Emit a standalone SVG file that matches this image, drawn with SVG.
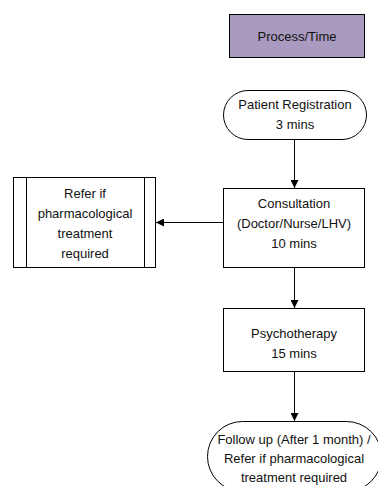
<svg xmlns="http://www.w3.org/2000/svg" width="378" height="486" viewBox="0 0 378 486">
<defs>
<style>
.box{fill:#fff;stroke:#000;stroke-width:1}
.t{font-family:"Liberation Sans",Arial,sans-serif;font-size:13px;fill:#111;text-anchor:middle}
.c{stroke:#000;stroke-width:1;fill:none}
</style>
<marker id="ah" viewBox="0 0 10 10" refX="10" refY="5" markerWidth="8" markerHeight="8" orient="auto" markerUnits="userSpaceOnUse">
<path d="M0,0 L10,5 L0,10 z" fill="#000"/>
</marker>
</defs>
<rect width="378" height="486" fill="#fff"/>
<g id="legend">
<rect x="229.500" y="14.500" width="135" height="43" fill="#A99BC0" stroke="#000"/>
<text class="t" x="297" y="41">Process/Time</text>
</g>
<g id="registration">
<rect class="box" x="223.500" y="90.500" width="143" height="49" rx="24.500"/>
<text class="t" x="295" y="109">Patient Registration</text>
<text class="t" x="295" y="129">3 mins</text>
</g>
<g id="consultation">
<rect class="box" x="223.500" y="188.500" width="141" height="79"/>
<text class="t" x="294" y="208">Consultation</text>
<text class="t" x="294" y="228">(Doctor/Nurse/LHV)</text>
<text class="t" x="294" y="248">10 mins</text>
</g>
<g id="refer">
<rect class="box" x="13.500" y="177.500" width="142" height="90"/>
<line class="c" x1="26.500" y1="177.500" x2="26.500" y2="267.500"/>
<line class="c" x1="144.500" y1="177.500" x2="144.500" y2="267.500"/>
<text class="t" x="85" y="198">Refer if</text>
<text class="t" x="85" y="218">pharmacological</text>
<text class="t" x="85" y="238">treatment</text>
<text class="t" x="85" y="258">required</text>
</g>
<g id="psychotherapy">
<rect class="box" x="223.500" y="308.500" width="141" height="63"/>
<text class="t" x="294" y="338">Psychotherapy</text>
<text class="t" x="294" y="358">15 mins</text>
</g>
<g id="followup">
<rect class="box" x="207.500" y="421.500" width="174" height="70" rx="35"/>
<text class="t" x="294" y="444">Follow up (After 1 month) /</text>
<text class="t" x="294" y="463">Refer if pharmacological</text>
<text class="t" x="294" y="482">treatment required</text>
</g>
<g id="connectors">
<line class="c" x1="294.500" y1="139.500" x2="294.500" y2="188" marker-end="url(#ah)"/>
<line class="c" x1="223" y1="222.500" x2="156" y2="222.500" marker-end="url(#ah)"/>
<line class="c" x1="294.500" y1="267.500" x2="294.500" y2="308" marker-end="url(#ah)"/>
<line class="c" x1="294.500" y1="371.500" x2="294.500" y2="421" marker-end="url(#ah)"/>
</g>
</svg>
